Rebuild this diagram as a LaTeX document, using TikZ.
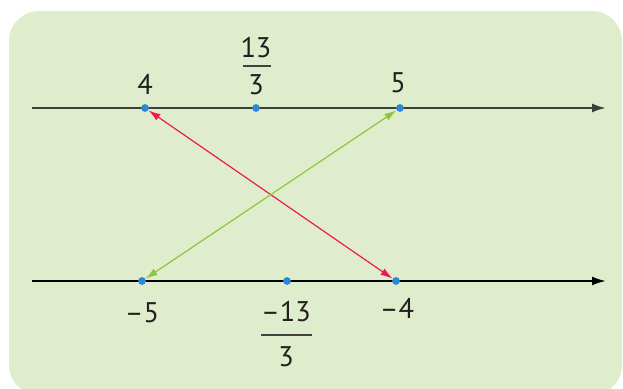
\documentclass[tikz,border=0pt]{standalone}
\usepackage{fontspec}
\setmainfont{PT Sans}
\usetikzlibrary{arrows.meta}

\definecolor{panel}{HTML}{E0EDCC}
\definecolor{dotblue}{HTML}{2B88D4}
\definecolor{linkred}{HTML}{EC1A4E}
\definecolor{linkgreen}{HTML}{8CC63F}
\definecolor{axisgray}{HTML}{3C3F3A}
\definecolor{ink}{HTML}{231F20}

\begin{document}
\begin{tikzpicture}[x=0.5pt,y=0.5pt,
    every node/.style={font=\fontsize{14.2}{17}\selectfont, text=ink},
    pt/.style={circle,fill=dotblue,inner sep=0pt,minimum size=3.9pt},
    fracbar/.style={ink!85,line width=1pt},
    numline/.style={line width=1pt,-{Latex[length=7pt,width=4.5pt]}},
    link/.style={line width=0.6pt,{Latex[length=6pt,width=3.8pt]}-{Latex[length=6pt,width=3.8pt]}}]

    \useasboundingbox (0,0) rectangle (623,389);

    % Background
    \fill[panel,rounded corners=15pt] (9,-6) rectangle (622,378);

    % Number lines
    \draw[numline,axisgray] (32,281) -- (606,281);
    \draw[numline,black] (32,108) -- (606,108);

    % Points (top line)
    \node[pt] (p4) at (145,281) {};
    \node[pt] (p13) at (256,281) {};
    \node[pt] (p5) at (400,281) {};

    % Points (bottom line)
    \node[pt] (pm5) at (142,108) {};
    \node[pt] (pm13) at (287,108) {};
    \node[pt] (pm4) at (396,108) {};

    % Labels (top)
    \node (l4) at (145,305) {4};
    \node (l13n) at (256,341) {13};
    \draw[fracbar] (243,323) -- (271,323);
    \node (l13d) at (256,304) {3};
    \node (l5) at (398,306) {5};

    % Labels (bottom)
    \node (lm5) at (142,76) {–5};
    \node (lm13n) at (286,77) {–13};
    \draw[fracbar] (261,54) -- (312,54);
    \node (lm13d) at (286,32) {3};
    \node (lm4) at (397,81) {–4};

    % Pairings
    \draw[link,linkred] (p4) -- (pm4);
    \draw[link,linkgreen] (p5) -- (pm5);

\end{tikzpicture}
\end{document}
